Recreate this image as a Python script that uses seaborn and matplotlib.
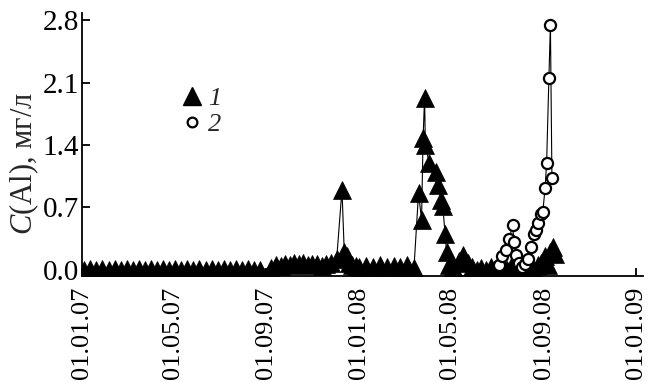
import matplotlib
matplotlib.use("Agg")
import matplotlib.pyplot as plt
import matplotlib.dates as mdates
from matplotlib.lines import Line2D
import pandas as pd
import seaborn as sns

# ---- data -------------------------------------------------------------
s1_dates = [
    "2007-01-04", "2007-01-12", "2007-01-20", "2007-01-28", "2007-02-05",
    "2007-02-13", "2007-02-21", "2007-03-01", "2007-03-09", "2007-03-17",
    "2007-03-25", "2007-04-02", "2007-04-10", "2007-04-18", "2007-04-26",
    "2007-05-04", "2007-05-12", "2007-05-20", "2007-05-28", "2007-06-05",
    "2007-06-13", "2007-06-21", "2007-06-29", "2007-07-07", "2007-07-15",
    "2007-07-23", "2007-07-31", "2007-08-08", "2007-08-16", "2007-08-24",
    "2007-09-08", "2007-09-14", "2007-09-20", "2007-09-26", "2007-10-02",
    "2007-10-08", "2007-10-14", "2007-10-20", "2007-10-26", "2007-11-01",
    "2007-11-07", "2007-11-13", "2007-11-19", "2007-11-25", "2007-12-03",
    "2007-12-10", "2007-12-13", "2007-12-16", "2007-12-19", "2007-12-23",
    "2007-12-28", "2008-01-02", "2008-01-11", "2008-01-20", "2008-01-29",
    "2008-02-07", "2008-02-16", "2008-02-25", "2008-03-05", "2008-03-14",
    "2008-03-20", "2008-03-24", "2008-03-26", "2008-03-28", "2008-03-29",
    "2008-04-03", "2008-04-12", "2008-04-15", "2008-04-19", "2008-04-21",
    "2008-04-24", "2008-04-26", "2008-04-29", "2008-05-05", "2008-05-12",
    "2008-05-18", "2008-05-24", "2008-05-30", "2008-06-05", "2008-06-11",
    "2008-06-17", "2008-06-23", "2008-06-29", "2008-07-05", "2008-07-10",
    "2008-07-15", "2008-07-20", "2008-07-25", "2008-07-30", "2008-08-04",
    "2008-08-09", "2008-08-14", "2008-08-19", "2008-08-24", "2008-08-29",
    "2008-09-03", "2008-09-07", "2008-09-10", "2008-09-13", "2008-09-16",
]
s1_values = [
    0.00, 0.01, 0.00, 0.01, 0.00,
    0.01, 0.00, 0.01, 0.00, 0.01,
    0.00, 0.01, 0.00, 0.01, 0.00,
    0.01, 0.00, 0.01, 0.00, 0.01,
    0.00, 0.01, 0.00, 0.01, 0.00,
    0.01, 0.00, 0.01, 0.00, 0.00,
    0.02, 0.05, 0.04, 0.07, 0.05,
    0.08, 0.06, 0.08, 0.05, 0.07,
    0.06, 0.04, 0.06, 0.08, 0.12,
    0.90, 0.20, 0.15, 0.08, 0.05,
    0.04, 0.03, 0.04, 0.03, 0.05,
    0.03, 0.04, 0.03, 0.05, 0.02,
    0.86, 0.56, 1.48, 1.93, 1.40,
    1.20, 1.10, 0.95, 0.78, 0.72,
    0.40, 0.20, 0.05, 0.03, 0.10,
    0.17, 0.08, 0.03, 0.00, 0.02,
    0.00, 0.03, 0.00, 0.02, 0.05,
    0.00, 0.03, 0.00, 0.04, 0.00,
    0.05, 0.02, 0.00, 0.05, 0.08,
    0.15, 0.05, 0.20, 0.25, 0.18,
]

s2_dates = [
    "2008-07-04", "2008-07-08", "2008-07-13", "2008-07-18", "2008-07-22",
    "2008-07-24", "2008-07-27", "2008-07-31", "2008-08-04", "2008-08-08",
    "2008-08-12", "2008-08-16", "2008-08-19", "2008-08-22", "2008-08-25",
    "2008-08-28", "2008-08-31", "2008-09-03", "2008-09-05", "2008-09-08",
    "2008-09-10", "2008-09-12",
]
s2_values = [
    0.05, 0.15, 0.22, 0.35, 0.50,
    0.31, 0.17, 0.08, 0.03, 0.06,
    0.12, 0.25, 0.40, 0.45, 0.52,
    0.62, 0.65, 0.92, 1.20, 2.15,
    2.75, 1.03,
]

tick_dates = ["2007-01-01", "2007-05-01", "2007-09-01", "2008-01-01",
              "2008-05-01", "2008-09-01", "2009-01-01"]
y_ticks = [0.0, 0.7, 1.4, 2.1, 2.8]
legend_labels = ["1", "2"]
y_label = r"$C$(Al), мг/л"

# ---- style ------------------------------------------------------------
sns.set_style("ticks")
plt.rcParams["font.family"] = ["Liberation Serif", "DejaVu Serif"]
plt.rcParams["mathtext.fontset"] = "custom"
plt.rcParams["mathtext.it"] = "Liberation Serif:italic"
plt.rcParams["mathtext.rm"] = "Liberation Serif"

df1 = pd.DataFrame({"date": pd.to_datetime(s1_dates), "value": s1_values})
df2 = pd.DataFrame({"date": pd.to_datetime(s2_dates), "value": s2_values})

fig = plt.figure(figsize=(6.56, 3.81), dpi=100)
ax = fig.add_axes([0.125, 0.2756, 0.855, 0.6904])

sns.lineplot(data=df1, x="date", y="value", estimator=None, ax=ax,
             color="black", linewidth=0.8, marker="^", markersize=13,
             markerfacecolor="black", markeredgecolor="black",
             markeredgewidth=0.5, zorder=3)
sns.lineplot(data=df2, x="date", y="value", estimator=None, ax=ax,
             color="black", linewidth=0.8, marker="o", markersize=8,
             markerfacecolor="white", markeredgecolor="black",
             markeredgewidth=1.6, zorder=4)

ax.set_xlim(pd.Timestamp("2007-01-01"), pd.Timestamp("2009-01-10"))
ax.set_ylim(-0.07, 2.88)
ax.set_xticks(pd.to_datetime(tick_dates))
ax.xaxis.set_major_formatter(mdates.DateFormatter("%d.%m.%y"))
ax.set_yticks(y_ticks)
ax.set_yticklabels([f"{v:.1f}" for v in y_ticks])

ax.tick_params(axis="both", direction="in", length=6, width=1.3,
               colors="black")
ax.tick_params(axis="x", rotation=90, pad=8, labelsize=19)
ax.tick_params(axis="y", pad=2, labelsize=21)

for side in ["top", "right"]:
    ax.spines[side].set_visible(False)
for side in ["left", "bottom"]:
    ax.spines[side].set_linewidth(1.3)
    ax.spines[side].set_color("black")

ax.set_xlabel("")
ax.set_ylabel(y_label, fontsize=22)
ax.yaxis.set_label_coords(-0.073, 0.43)

handles = [
    Line2D([], [], linestyle="none", marker="^", markersize=13,
           markerfacecolor="black", markeredgecolor="black"),
    Line2D([], [], linestyle="none", marker="o", markersize=7,
           markerfacecolor="white", markeredgecolor="black",
           markeredgewidth=1.6),
]
ax.legend(handles, legend_labels, loc="upper left",
          bbox_to_anchor=(0.175, 0.72), frameon=False, borderpad=0,
          borderaxespad=0, handlelength=0.9, handletextpad=0.15,
          labelspacing=0.1, prop={"size": 19, "style": "italic"})

fig.savefig("out.png", dpi=100)
